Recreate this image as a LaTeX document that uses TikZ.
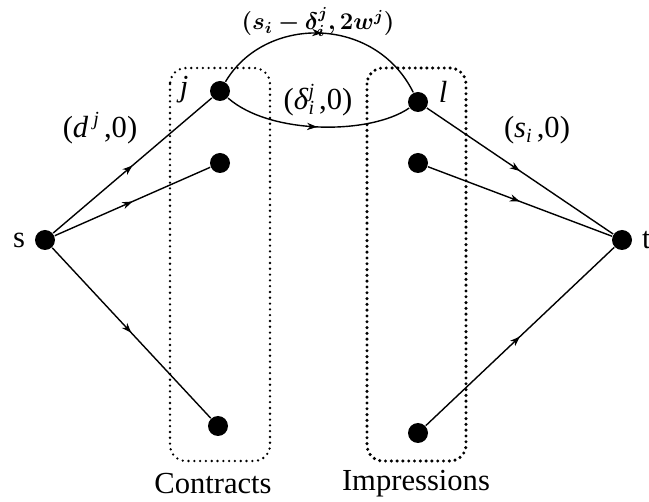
\documentclass[tikz,border=0pt]{standalone}
\usepackage{fontspec}
\setmainfont{Liberation Serif}
\usepackage{amsmath}
\usepackage{bm}
\usepackage{tikz}
\usetikzlibrary{arrows.meta,decorations.markings}

% small sub/superscript pair in text
\newcommand{\ssub}[2]{\rlap{\raisebox{-0.35ex}{\fontsize{10}{10}\selectfont\textit{#1}}}\raisebox{0.85ex}{\fontsize{10}{10}\selectfont\textit{#2}}}

\begin{document}
\begin{tikzpicture}[x=0.5pt,y=-0.5pt,line width=0.7pt,
  dot/.style={circle,fill=black,inner sep=0pt,minimum size=10pt},
  midarrow/.style={postaction={decorate},decoration={markings,
    mark=at position 0.5 with {\arrow{Stealth[length=5pt,width=3.6pt,inset=1.5pt]}}}},
  groupbox/.style={dash pattern=on 0pt off 2.9pt,line cap=round,rounded corners=8pt},
  lab/.style={font=\fontsize{15.3}{18}\selectfont},
  mathlab/.style={font=\fontsize{11.6}{14}\selectfont}]
  \useasboundingbox (0,0) rectangle (649,502);
  % groups
  \draw[groupbox,line width=1.3pt] (170,68) rectangle (270,461);
  \draw[groupbox,line width=1.7pt] (367,68) rectangle (466,461);
  % source and sink
  \node[dot] (s) at (45,240) {};
  \node[dot] (t) at (622,240) {};
  \node[lab,left=1pt] (slab) at (s.west) {s};
  \node[lab,right=1pt] (tlab) at (t.east) {t};
  % contracts
  \node[dot] (j) at (220,91) {};
  \node[dot] (c2) at (220,163) {};
  \node[dot] (c3) at (218,426) {};
  % impressions
  \node[dot] (i) at (418,102) {};
  \node[dot] (m2) at (418,163) {};
  \node[dot] (m3) at (418,433) {};
  % edges
  \draw[midarrow] (s) -- (j);
  \draw[midarrow] (s) -- (c2);
  \draw[midarrow] (s) -- (c3);
  \draw[midarrow] (i) -- (t);
  \draw[midarrow] (m2) -- (t);
  \draw[midarrow] (m3) -- (t);
  \draw[midarrow] (j) .. controls (265,15) and (375,15) .. (i);
  \draw[midarrow] (j) .. controls (270,135) and (370,135) .. (i);
  % labels
  \node[lab] (jlab) at (184,90) {\textit{j}};
  \node[lab] (ilab) at (443,92) {\textit{l}};
  \node[lab] (dlab) at (100,128) {(\textit{d}\,\raisebox{0.85ex}{\fontsize{10}{10}\selectfont\textit{j}}\,,0)};
  \node[lab] (slab2) at (537,130) {(\textit{s}\raisebox{-0.35ex}{\fontsize{10}{10}\selectfont\textit{i}}\,,0)};
  \node[lab] (dellab) at (318,100) {(\textit{δ}\ssub{i}{j}\,,0)};
  \node[mathlab] (toplab) at (318,22) {$\bm{(s_i-\delta_i^j,2w^j)}$};
  \node[lab] (clab) at (213,484) {Contracts};
  \node[lab] (implab) at (416,484) {Impressions};
\end{tikzpicture}
\end{document}
